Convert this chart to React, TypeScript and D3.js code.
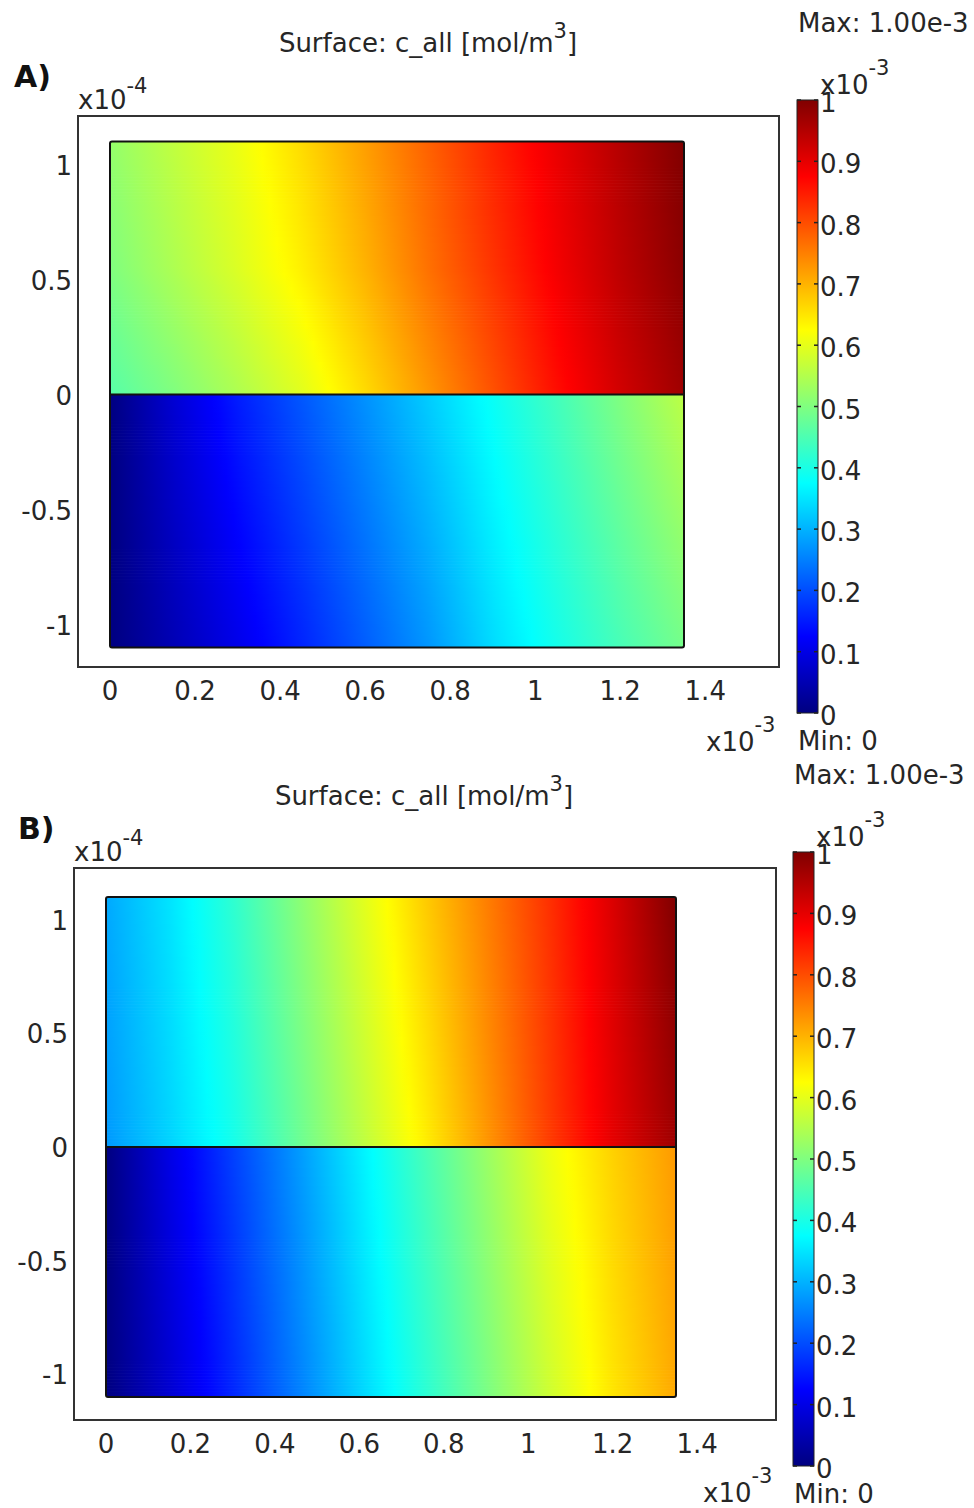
import React from "react";
import * as d3 from "d3";

// ---------- DATA ----------
// x sample positions (×1e-3 m)
const xSamples = [0, 0.15, 0.3, 0.45, 0.6, 0.75, 0.9, 1.05, 1.2, 1.35];

// Panel A: c_all values (×1e-3 mol/m3) along rows of constant y (×1e-4 m)
const aUpperY = [1.1, 0.55, 0];
const aUpperTop = [0.52, 0.564, 0.607, 0.66, 0.72, 0.78, 0.84, 0.895, 0.948, 1.0];
const aUpperMid = [0.5, 0.545, 0.59, 0.64, 0.7, 0.765, 0.825, 0.885, 0.94, 0.99];
const aUpperBot = [0.46, 0.5, 0.545, 0.595, 0.66, 0.728, 0.795, 0.862, 0.92, 0.97];
const aLowerY = [0, -1.1];
const aLowerTop = [0, 0.082, 0.152, 0.21, 0.268, 0.326, 0.384, 0.44, 0.5, 0.56];
const aLowerBot = [0, 0.052, 0.104, 0.159, 0.216, 0.273, 0.34, 0.395, 0.445, 0.49];

// Panel B
const bUpperY = [1.1, 0];
const bUpperTop = [0.29, 0.348, 0.42, 0.505, 0.59, 0.672, 0.75, 0.828, 0.911, 1.0];
const bUpperBot = [0.275, 0.332, 0.394, 0.475, 0.556, 0.637, 0.726, 0.816, 0.9, 0.97];
const bLowerY = [0, -1.1];
const bLowerTop = [0, 0.099, 0.187, 0.272, 0.358, 0.442, 0.525, 0.608, 0.67, 0.725];
const bLowerBot = [0, 0.079, 0.161, 0.246, 0.331, 0.413, 0.494, 0.576, 0.65, 0.71];

// Tick labels
const xTicks = [0, 0.2, 0.4, 0.6, 0.8, 1, 1.2, 1.4];
const yTicks = [1, 0.5, 0, -0.5, -1];
const cbTicks = [0, 0.1, 0.2, 0.3, 0.4, 0.5, 0.6, 0.7, 0.8, 0.9, 1];

// Jet colormap
const jetStops = [0, 0.125, 0.375, 0.625, 0.875, 1];
const jetColors = ["#000080", "#0000ff", "#00ffff", "#ffff00", "#ff0000", "#800000"];
const jet = d3.scaleLinear<string>().domain(jetStops).range(jetColors).clamp(true);

const FONT = "'DejaVu Sans', Verdana, sans-serif";
const TXT = "#262626";

type Sub = { ys: number[]; rows: number[][] };

type Layout = {
  box: [number, number, number, number];
  dom: [number, number, number, number];
  cb: [number, number, number, number];
  titleX: number;
  titleY: number;
  labelX: number;
  labelY: number;
  xExpDy: number;
};

function fmt(v: number) {
  return String(Math.round(v * 10) / 10);
}

function Panel({ id, label, L, subs }: { id: string; label: string; L: Layout; subs: Sub[] }) {
  const [bx0, by0, bx1, by1] = L.box;
  const [dx0, dy0, dx1, dy1] = L.dom;
  const [cx0, cy0, cx1, cy1] = L.cb;
  const xMax = xSamples[xSamples.length - 1];
  const x = d3.scaleLinear().domain([0, xMax]).range([dx0, dx1]);
  const y = d3.scaleLinear().domain([-1.1, 1.1]).range([dy1, dy0]);
  const cbY = d3.scaleLinear().domain([0, 1]).range([cy1, cy0]);

  const nStops = 80;
  const stripH = 3;
  const defs: React.ReactNode[] = [];
  const strips: React.ReactNode[] = [];

  subs.forEach((s, si) => {
    const yTop = y(d3.max(s.ys)!);
    const yBot = y(d3.min(s.ys)!);
    const n = Math.ceil((yBot - yTop) / stripH);
    const h = (yBot - yTop) / n;
    for (let k = 0; k < n; k++) {
      const py = yTop + (k + 0.5) * h;
      const yv = y.invert(py);
      const rowAtY = xSamples.map((_, xi) =>
        d3.scaleLinear().domain(s.ys).range(s.rows.map((r) => r[xi]))(yv)
      );
      const along = d3.scaleLinear().domain(xSamples).range(rowAtY);
      const gid = `${id}-g${si}-${k}`;
      defs.push(
        <linearGradient key={gid} id={gid} x1="0" y1="0" x2="1" y2="0">
          {d3.range(nStops).map((j) => {
            const t = j / (nStops - 1);
            return <stop key={j} offset={t} stopColor={jet(along(t * xMax))} />;
          })}
        </linearGradient>
      );
      strips.push(
        <rect
          key={gid}
          x={dx0}
          y={yTop + k * h}
          width={dx1 - dx0}
          height={h + (k < n - 1 ? 0.7 : 0)}
          fill={`url(#${gid})`}
        />
      );
    }
  });

  const cbGid = `${id}-cb`;
  defs.push(
    <linearGradient key={cbGid} id={cbGid} x1="0" y1="1" x2="0" y2="0">
      {jetStops.map((s, i) => (
        <stop key={i} offset={s} stopColor={jetColors[i]} />
      ))}
    </linearGradient>
  );

  const fs = 26;
  const sup = 21;

  return (
    <g>
      <defs>{defs}</defs>
      <text x={L.labelX} y={L.labelY} fontFamily={FONT} fontWeight="bold" fontSize={30} fill="#111">
        {label}
      </text>
      <text x={L.titleX} y={L.titleY} textAnchor="middle" fontFamily={FONT} fontSize={fs} fill={TXT}>
        Surface: c_all [mol/m
        <tspan dy={-14} fontSize={sup}>3</tspan>
        <tspan dy={14}>]</tspan>
      </text>
      <rect x={bx0} y={by0} width={bx1 - bx0} height={by1 - by0} fill="none" stroke="#333" strokeWidth={2} />
      {strips}
      <rect x={dx0} y={dy0} width={dx1 - dx0} height={dy1 - dy0} fill="none" stroke="#111" strokeWidth={2} rx={2} />
      <line x1={dx0} x2={dx1} y1={y(0)} y2={y(0)} stroke="#111" strokeWidth={2.2} />
      <text x={bx0} y={by0 - 7} fontFamily={FONT} fontSize={fs} fill={TXT}>
        x10
        <tspan dy={-16} fontSize={sup}>-4</tspan>
      </text>
      {yTicks.map((t) => (
        <text key={t} x={bx0 - 6} y={y(t) + 10} textAnchor="end" fontFamily={FONT} fontSize={fs} fill={TXT}>
          {fmt(t)}
        </text>
      ))}
      {xTicks.map((t) => (
        <text key={t} x={x(t)} y={by1 + 33} textAnchor="middle" fontFamily={FONT} fontSize={fs} fill={TXT}>
          {fmt(t)}
        </text>
      ))}
      <text x={bx1 - 73} y={by1 + L.xExpDy} fontFamily={FONT} fontSize={fs} fill={TXT}>
        x10
        <tspan dy={-19} fontSize={sup}>-3</tspan>
      </text>
      <text x={cx0 + 1} y={cy0 - 68} fontFamily={FONT} fontSize={fs} fill={TXT}>
        Max: 1.00e-3
      </text>
      <text x={cx1 + 2} y={cy0 - 6} fontFamily={FONT} fontSize={fs} fill={TXT}>
        x10
        <tspan dy={-19} fontSize={sup}>-3</tspan>
      </text>
      <rect x={cx0} y={cy0} width={cx1 - cx0} height={cy1 - cy0} fill={`url(#${cbGid})`} stroke="#222" strokeWidth={1} />
      {cbTicks.map((t) => (
        <g key={t}>
          <line x1={cx0} x2={cx0 + 4} y1={cbY(t)} y2={cbY(t)} stroke="#222" strokeWidth={1.5} />
          <line x1={cx1 - 4} x2={cx1} y1={cbY(t)} y2={cbY(t)} stroke="#222" strokeWidth={1.5} />
          <text x={cx1 + 2} y={cbY(t) + 12} fontFamily={FONT} fontSize={fs} fill={TXT}>
            {fmt(t)}
          </text>
        </g>
      ))}
      <text x={cx0 + 1} y={cy1 + 37} fontFamily={FONT} fontSize={fs} fill={TXT}>
        Min: 0
      </text>
    </g>
  );
}

const layoutA: Layout = {
  box: [78, 116, 779, 667],
  dom: [110, 141.5, 684, 647.5],
  cb: [797, 100, 818, 713],
  titleX: 428,
  titleY: 52,
  labelX: 14,
  labelY: 87,
  xExpDy: 84,
};

const layoutB: Layout = {
  box: [74, 868, 776, 1420],
  dom: [106, 897, 676, 1397],
  cb: [793, 852, 814, 1466],
  titleX: 424,
  titleY: 805,
  labelX: 18,
  labelY: 839,
  xExpDy: 82,
};

export default function App() {
  return (
    <svg width={974} height={1508} viewBox="0 0 974 1508" style={{ position: "absolute", left: 0, top: 0, background: "#fff" }}>
      <rect width={974} height={1508} fill="#fff" />
      <Panel
        id="pa"
        label="A)"
        L={layoutA}
        subs={[
          { ys: aUpperY, rows: [aUpperTop, aUpperMid, aUpperBot] },
          { ys: aLowerY, rows: [aLowerTop, aLowerBot] },
        ]}
      />
      <Panel
        id="pb"
        label="B)"
        L={layoutB}
        subs={[
          { ys: bUpperY, rows: [bUpperTop, bUpperBot] },
          { ys: bLowerY, rows: [bLowerTop, bLowerBot] },
        ]}
      />
    </svg>
  );
}
